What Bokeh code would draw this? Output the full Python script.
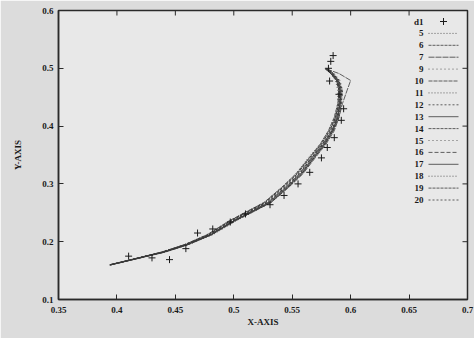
from bokeh.plotting import figure
from bokeh.models import Range1d, FixedTicker
from bokeh.core.properties import value
from bokeh.embed import file_html
from bokeh.resources import INLINE

# ---------------- data ----------------
x_ticks = [0.35, 0.4, 0.45, 0.5, 0.55, 0.6, 0.65, 0.7]
x_tick_labels = ["0.35", "0.4", "0.45", "0.5", "0.55", "0.6", "0.65", "0.7"]
y_ticks = [0.1, 0.2, 0.3, 0.4, 0.5, 0.6]
y_tick_labels = ["0.1", "0.2", "0.3", "0.4", "0.5", "0.6"]

d1_x = [0.41, 0.43, 0.445, 0.459, 0.469, 0.482, 0.497, 0.51, 0.531, 0.543, 0.555,
        0.565, 0.575, 0.58, 0.586, 0.592, 0.594, 0.59, 0.582, 0.581, 0.583, 0.585]
d1_y = [0.175, 0.172, 0.169, 0.188, 0.215, 0.222, 0.234, 0.248, 0.264, 0.28, 0.30,
        0.32, 0.345, 0.363, 0.38, 0.41, 0.43, 0.455, 0.478, 0.50, 0.512, 0.522]

# shared y levels along the curves (y increases monotonically along each curve)
curve_y = [0.160, 0.170, 0.182, 0.195, 0.212, 0.236, 0.252, 0.268, 0.294, 0.317,
           0.346, 0.369, 0.392, 0.415, 0.439, 0.462, 0.479, 0.491, 0.499]

s5 = [0.394, 0.415, 0.440, 0.460, 0.480, 0.500, 0.515, 0.530, 0.545, 0.557, 0.568, 0.577, 0.584, 0.588, 0.590, 0.591, 0.589, 0.584, 0.580]
s6 = [0.394, 0.414, 0.439, 0.459, 0.478, 0.497, 0.512, 0.527, 0.542, 0.554, 0.566, 0.575, 0.582, 0.587, 0.590, 0.590, 0.588, 0.583, 0.579]
s7 = [0.395, 0.416, 0.441, 0.461, 0.481, 0.501, 0.517, 0.532, 0.547, 0.559, 0.570, 0.579, 0.586, 0.590, 0.593, 0.597, 0.600, 0.590, 0.579]
s9 = [0.394, 0.415, 0.440, 0.460, 0.479, 0.499, 0.514, 0.529, 0.544, 0.556, 0.567, 0.576, 0.583, 0.588, 0.591, 0.592, 0.590, 0.585, 0.580]
s10 = [0.394, 0.414, 0.438, 0.458, 0.477, 0.496, 0.511, 0.526, 0.541, 0.553, 0.565, 0.574, 0.581, 0.586, 0.589, 0.590, 0.588, 0.583, 0.578]
s11 = [0.395, 0.416, 0.441, 0.461, 0.482, 0.502, 0.517, 0.532, 0.547, 0.558, 0.569, 0.578, 0.585, 0.589, 0.592, 0.592, 0.590, 0.585, 0.581]
s12 = [0.394, 0.415, 0.439, 0.459, 0.479, 0.498, 0.513, 0.528, 0.543, 0.555, 0.567, 0.576, 0.583, 0.587, 0.590, 0.590, 0.588, 0.584, 0.580]
s13 = [0.394, 0.415, 0.440, 0.460, 0.480, 0.500, 0.516, 0.531, 0.546, 0.558, 0.569, 0.578, 0.585, 0.589, 0.591, 0.592, 0.589, 0.584, 0.579]
s14 = [0.394, 0.414, 0.439, 0.458, 0.478, 0.497, 0.512, 0.527, 0.542, 0.554, 0.565, 0.575, 0.582, 0.587, 0.590, 0.591, 0.589, 0.585, 0.580]
s15 = [0.395, 0.416, 0.440, 0.461, 0.481, 0.501, 0.516, 0.531, 0.546, 0.558, 0.569, 0.578, 0.585, 0.589, 0.592, 0.593, 0.591, 0.586, 0.581]
s16 = [0.394, 0.415, 0.439, 0.459, 0.479, 0.499, 0.514, 0.529, 0.544, 0.556, 0.567, 0.576, 0.584, 0.588, 0.591, 0.591, 0.589, 0.584, 0.579]
s17 = [0.394, 0.415, 0.440, 0.460, 0.480, 0.500, 0.515, 0.530, 0.545, 0.557, 0.568, 0.577, 0.584, 0.589, 0.591, 0.591, 0.588, 0.583, 0.579]
s18 = [0.394, 0.414, 0.438, 0.458, 0.477, 0.496, 0.511, 0.526, 0.541, 0.553, 0.564, 0.574, 0.581, 0.586, 0.589, 0.589, 0.587, 0.583, 0.579]
s19 = [0.395, 0.416, 0.441, 0.461, 0.481, 0.501, 0.516, 0.532, 0.546, 0.558, 0.569, 0.578, 0.585, 0.590, 0.592, 0.593, 0.590, 0.585, 0.580]
s20 = [0.394, 0.415, 0.440, 0.460, 0.480, 0.499, 0.514, 0.529, 0.544, 0.556, 0.567, 0.577, 0.584, 0.588, 0.591, 0.592, 0.590, 0.585, 0.581]

series_names = ["5", "6", "7", "9", "10", "11", "12", "13", "14", "15", "16", "17", "18", "19", "20"]
series_x = [s5, s6, s7, s9, s10, s11, s12, s13, s14, s15, s16, s17, s18, s19, s20]
series_dash = ["1 2", "3 1", "6 1", "1 3", "4 1", "1 2", "2 2", "solid",
               "3 1", "1 3", "4 2", "solid", "1 2", "3 1", "2 2"]

# ---------------- figure ----------------
W, H = 474, 338
LEFT, RIGHT, TOP, BOTTOM = 58, 7, 10, 39
FW, FH = W - LEFT - RIGHT, H - TOP - BOTTOM

FONT = "Liberation Serif"
INK = "#1a1a1a"
LINE = "#3a3a3a"
TICK_LEN = 5

p = figure(width=W, height=H, x_range=Range1d(0.35, 0.7), y_range=Range1d(0.1, 0.6),
           output_backend="svg", toolbar_location=None,
           min_border_left=LEFT, min_border_right=RIGHT,
           min_border_top=TOP, min_border_bottom=BOTTOM)
p.background_fill_color = "#e8e8e8"
p.border_fill_color = "#dcdcdc"
p.outline_line_color = "#2a2a2a"
p.outline_line_width = 1.5
p.xgrid.visible = False
p.ygrid.visible = False
p.extra_x_ranges = {"px": Range1d(0, FW)}
p.extra_y_ranges = {"px": Range1d(0, FH)}


def style_axis(ax, ticks, labels):
    ax.ticker = FixedTicker(ticks=ticks)
    ax.major_label_overrides = {t: l for t, l in zip(ticks, labels)}
    ax.major_tick_in = TICK_LEN
    ax.major_tick_out = 0
    ax.minor_tick_in = 0
    ax.minor_tick_out = 0
    ax.major_tick_line_color = "#2a2a2a"
    ax.major_tick_line_width = 1
    ax.axis_line_color = "#2a2a2a"
    ax.axis_line_width = 1.5
    ax.major_label_text_font = FONT
    ax.major_label_text_font_style = "bold"
    ax.major_label_text_color = INK
    ax.major_label_text_font_size = "9px"
    ax.axis_label_text_font = FONT
    ax.axis_label_text_font_style = "bold"
    ax.axis_label_text_font_size = "9px"
    ax.axis_label_text_color = INK


xa = p.xaxis[0]
ya = p.yaxis[0]
style_axis(xa, x_ticks, x_tick_labels)
style_axis(ya, y_ticks, y_tick_labels)
xa.major_label_standoff = 7
ya.major_label_standoff = 5
xa.axis_label = "X-AXIS"
ya.axis_label = "Y-AXIS"
xa.axis_label_standoff = 1
ya.axis_label_standoff = 16

# mirrored inward ticks on top and right edges (gnuplot style)
p.segment(x0=x_ticks, x1=x_ticks, y0=[FH] * len(x_ticks), y1=[FH - TICK_LEN] * len(x_ticks),
          y_range_name="px", line_color="#2a2a2a", line_width=1)
p.segment(x0=[FW] * len(y_ticks), x1=[FW - TICK_LEN] * len(y_ticks), y0=y_ticks, y1=y_ticks,
          x_range_name="px", line_color="#2a2a2a", line_width=1)

# curves
for name, xs, dash in zip(series_names, series_x, series_dash):
    p.line(xs, curve_y, line_color=LINE, line_width=0.8, line_dash=dash)

# data points
p.scatter(d1_x, d1_y, marker="cross", size=7, line_color=INK, line_width=1)

# ---------------- legend (gnuplot style: label, then sample) ----------------
ROW0, ROWH = 11, 11.9
LAB_X, S0, S1 = 365, 370, 400

labels = ["d1"] + series_names
ys = [FH - ROW0 - i * ROWH for i in range(len(labels))]
p.text(x=[LAB_X] * len(labels), y=ys, text=labels, x_range_name="px", y_range_name="px",
       text_align="right", text_baseline="middle", text_font=value(FONT),
       text_font_style="bold", text_font_size="9px", text_color=INK)
p.scatter(x=[(S0 + S1) / 2], y=[ys[0]], marker="cross", size=7, line_color=INK,
          x_range_name="px", y_range_name="px")
for yy, dash in zip(ys[1:], series_dash):
    p.line(x=[S0, S1], y=[yy, yy], line_color=LINE, line_width=0.8, line_dash=dash,
           x_range_name="px", y_range_name="px")

open("out.html", "w").write(file_html(p, INLINE))
